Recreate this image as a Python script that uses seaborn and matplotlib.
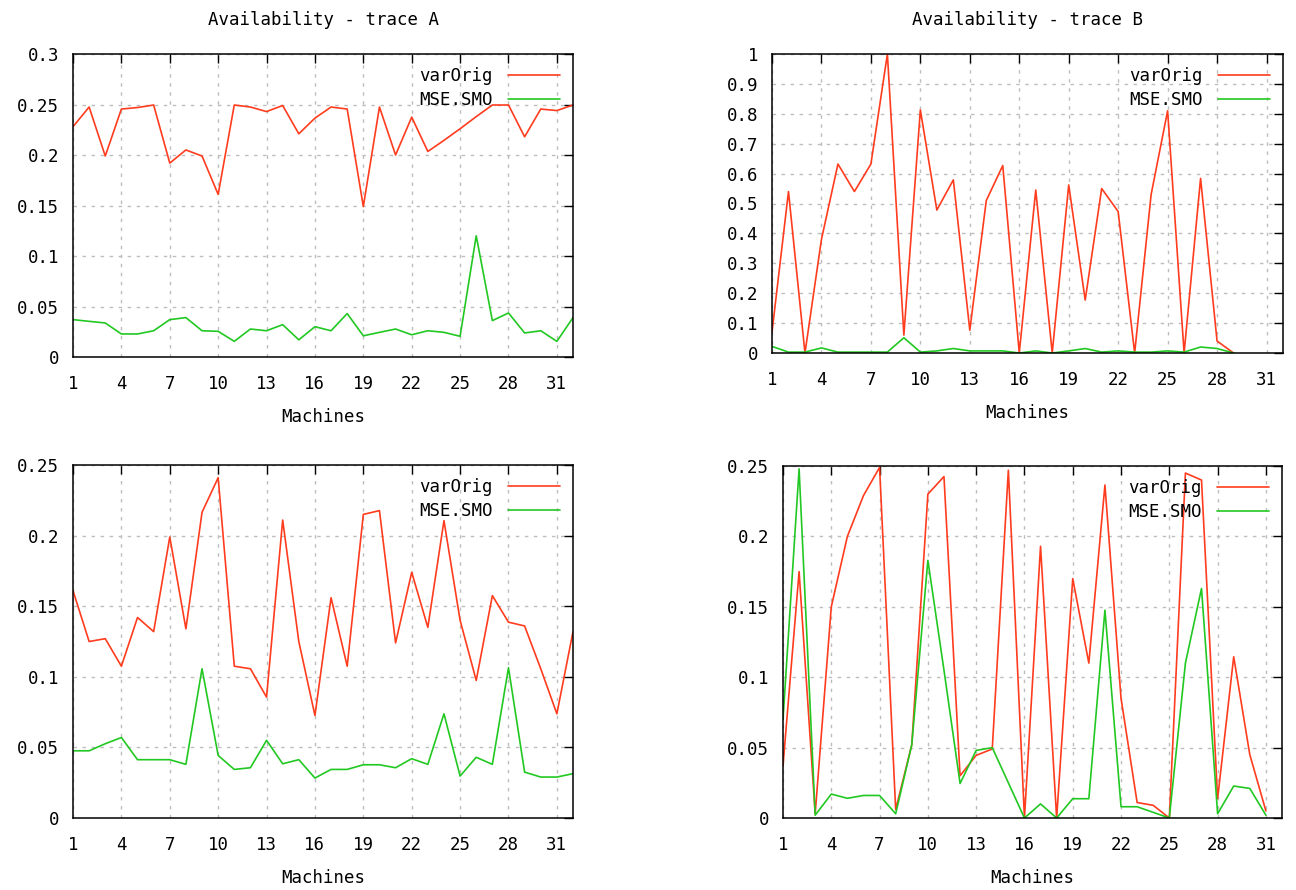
import matplotlib
matplotlib.use('Agg')
import matplotlib.pyplot as plt
import numpy as np
import pandas as pd
import seaborn as sns
from matplotlib.ticker import FuncFormatter

sns.set_style('white')
plt.rcParams['font.family'] = ['DejaVu Sans Mono', 'DejaVu Sans']
plt.rcParams['text.color'] = 'black'
plt.rcParams['axes.labelcolor'] = 'black'

RED = '#ff3c1e'
GREEN = '#22c822'
FS = 12.5

# trace A, top panel
a_orig = [0.228, 0.2475, 0.199, 0.2455, 0.247, 0.2495, 0.192, 0.205, 0.199, 0.161,
          0.2495, 0.2475, 0.243, 0.249, 0.221, 0.2365, 0.2475, 0.2455, 0.149, 0.2475,
          0.200, 0.2375, 0.2035, 0.2145, 0.226, 0.238, 0.2495, 0.2495, 0.218, 0.2455,
          0.244, 0.2495]
a_mse = [0.037, 0.0353, 0.0337, 0.0228, 0.0228, 0.026, 0.037, 0.039, 0.026, 0.0254,
         0.0155, 0.0277, 0.026, 0.032, 0.017, 0.030, 0.026, 0.043, 0.021, 0.0244,
         0.0277, 0.022, 0.026, 0.0244, 0.0205, 0.120, 0.036, 0.0436, 0.0238, 0.026,
         0.0155, 0.039]

# trace B, top panel
b_orig = [0.07, 0.54, 0.0, 0.38, 0.632, 0.54, 0.632, 1.0, 0.06, 0.813,
          0.478, 0.579, 0.076, 0.51, 0.627, 0.0, 0.545, 0.0, 0.562, 0.177,
          0.55, 0.473, 0.0, 0.53, 0.81, 0.0, 0.584, 0.04, 0.0]
b_mse = [0.022, 0.003, 0.003, 0.017, 0.003, 0.003, 0.003, 0.003, 0.051, 0.003,
         0.007, 0.015, 0.007, 0.007, 0.007, 0.0, 0.007, 0.0, 0.007, 0.015,
         0.003, 0.007, 0.003, 0.003, 0.007, 0.003, 0.02, 0.015, 0.0]

# trace A, bottom panel
c_orig = [0.161, 0.125, 0.127, 0.1075, 0.142, 0.132, 0.199, 0.134, 0.2165, 0.241,
          0.1075, 0.1057, 0.0856, 0.211, 0.125, 0.0726, 0.156, 0.1075, 0.215, 0.2177,
          0.124, 0.174, 0.135, 0.2106, 0.14, 0.0974, 0.1575, 0.1387, 0.136, 0.1057,
          0.0738, 0.132]
c_mse = [0.0476, 0.0476, 0.0526, 0.057, 0.0413, 0.0413, 0.0413, 0.038, 0.1057, 0.0443,
         0.0344, 0.0356, 0.055, 0.0384, 0.0413, 0.0283, 0.0344, 0.0344, 0.0377, 0.0377,
         0.0356, 0.042, 0.038, 0.0738, 0.0297, 0.043, 0.038, 0.1064, 0.0325, 0.029,
         0.029, 0.0314]

# trace B, bottom panel
d_orig = [0.037, 0.175, 0.003, 0.15, 0.2, 0.229, 0.249, 0.006, 0.052, 0.23,
          0.2425, 0.030, 0.0445, 0.049, 0.247, 0.0, 0.193, 0.0, 0.170, 0.11,
          0.2365, 0.085, 0.011, 0.009, 0.0, 0.245, 0.24, 0.0137, 0.1145, 0.045,
          0.005]
d_mse = [0.07, 0.248, 0.002, 0.017, 0.014, 0.016, 0.016, 0.003, 0.052, 0.183,
         0.105, 0.0245, 0.048, 0.05, 0.025, 0.0, 0.01, 0.0, 0.0137, 0.0137,
         0.1476, 0.008, 0.008, 0.004, 0.0, 0.11, 0.163, 0.003, 0.0227, 0.021,
         0.002]

x_ticks = list(range(1, 32, 3))


def draw(ax, orig, mse, ymax, ystep, title=None):
    df = pd.DataFrame({
        'machine': list(range(1, len(orig) + 1)) + list(range(1, len(mse) + 1)),
        'value': orig + mse,
        'series': ['varOrig'] * len(orig) + ['MSE.SMO'] * len(mse),
    })
    sns.lineplot(data=df, x='machine', y='value', hue='series',
                 palette={'varOrig': RED, 'MSE.SMO': GREEN},
                 estimator=None, sort=False, linewidth=1.2, ax=ax)
    ax.set_xlim(1, 32)
    ax.set_ylim(0, ymax)
    ax.set_xticks(x_ticks)
    ax.set_yticks(np.arange(0, ymax + 1e-9, ystep))
    ax.yaxis.set_major_formatter(FuncFormatter(lambda v, p: f'{v:g}'))
    ax.grid(True, color='#bdbdbd', linestyle=(0, (2.5, 4)), linewidth=1)
    ax.tick_params(direction='in', length=6.5, width=1, top=True, right=True,
                   labelsize=FS, colors='black')
    ax.tick_params(axis='x', pad=13)
    ax.tick_params(axis='y', pad=10)
    for s in ax.spines.values():
        s.set_color('black')
        s.set_linewidth(1.1)
    ax.set_xlabel('Machines', fontsize=FS, labelpad=11)
    ax.set_ylabel('')
    if title:
        ax.set_title(title, fontsize=FS, pad=21, color='black')
    ax.legend(loc='upper right', frameon=False, markerfirst=False, fontsize=FS,
              handlelength=3.0, handletextpad=0.9, labelspacing=0.35,
              borderpad=0, borderaxespad=0.75)


fig = plt.figure(figsize=(12.96, 8.90), dpi=100)
W, H = 1296, 890


def panel(x0, y0, x1, y1):
    return fig.add_axes([x0 / W, 1 - y1 / H, (x1 - x0) / W, (y1 - y0) / H])


ax_a = panel(73, 54, 573, 357)
ax_b = panel(772, 54, 1283, 353)
ax_c = panel(73, 465, 573, 818)
ax_d = panel(783, 466, 1282, 818)

draw(ax_a, a_orig, a_mse, 0.3, 0.05, 'Availability - trace A')
draw(ax_b, b_orig, b_mse, 1.0, 0.1, 'Availability - trace B')
draw(ax_c, c_orig, c_mse, 0.25, 0.05)
draw(ax_d, d_orig, d_mse, 0.25, 0.05)

fig.savefig('out.png', dpi=100)
